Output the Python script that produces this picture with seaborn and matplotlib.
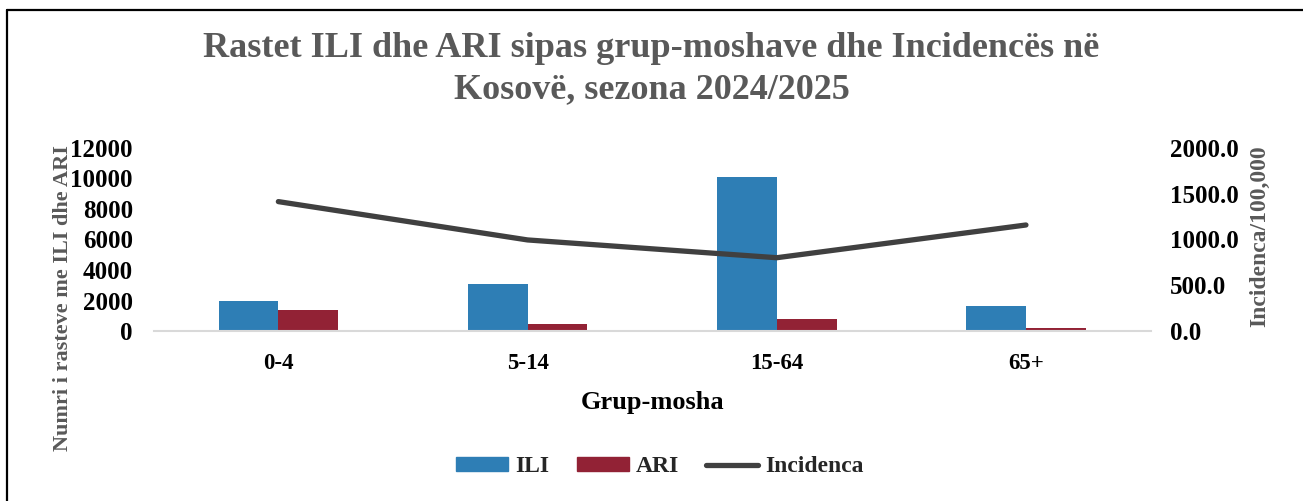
import matplotlib
matplotlib.use("Agg")
import matplotlib.pyplot as plt
import seaborn as sns
import pandas as pd
from matplotlib.lines import Line2D
from matplotlib.patches import Patch

categories = ["0-4", "5-14", "15-64", "65+"]
ili = [1970, 3110, 10060, 1620]
ari = [1360, 460, 770, 220]
incidenca = [1413, 995, 801, 1158]
left_ticks = [0, 2000, 4000, 6000, 8000, 10000, 12000]
right_ticks = [0, 500, 1000, 1500, 2000]

sns.set_theme(style="white")
plt.rcParams["font.family"] = ["Liberation Serif", "DejaVu Serif"]

fig = plt.figure(figsize=(13.03, 5.01), dpi=100)
ax = fig.add_axes([0.118, 0.339, 0.765, 0.366])

df = pd.DataFrame({
    "cat": categories * 2,
    "val": ili + ari,
    "series": ["ILI"] * 4 + ["ARI"] * 4,
})
c_ili = "#2E7EB5"
c_ari = "#922235"
sns.barplot(data=df, x="cat", y="val", hue="series", order=categories,
            hue_order=["ILI", "ARI"], palette=[c_ili, c_ari], width=0.48,
            gap=0, ax=ax, legend=False, saturation=1, linewidth=0)

ax.set_ylim(0, 12000)
ax.set_yticks(left_ticks)
ax.set_yticklabels([str(t) for t in left_ticks], fontsize=18, fontweight="bold", color="black")
ax.set_xlim(-0.5, 3.5)
ax.set_xticklabels(categories, fontsize=16.5, fontweight="bold", color="black")
ax.tick_params(axis="x", pad=16, length=0)
ax.tick_params(axis="y", length=0, pad=15)
for s in ["top", "left", "right"]:
    ax.spines[s].set_visible(False)
ax.spines["bottom"].set_color("#D9D9D9")
ax.spines["bottom"].set_linewidth(1.5)
ax.set_xlabel("Grup-mosha", fontsize=19, fontweight="bold", color="black", labelpad=12)
ax.set_ylabel("Numri i rasteve me ILI dhe ARI", fontsize=16, fontweight="bold",
              color="#595959", labelpad=10)
ax.yaxis.set_label_coords(-0.081, 0.18)

ax2 = ax.twinx()
sns.lineplot(x=list(range(4)), y=incidenca, ax=ax2, color="#404040", linewidth=3.8,
             solid_capstyle="round")
ax2.set_ylim(0, 2000)
ax2.set_yticks(right_ticks)
ax2.set_yticklabels([f"{t:.1f}" for t in right_ticks], fontsize=18, fontweight="bold", color="black")
ax2.tick_params(axis="y", length=0, pad=14)
for s in ["top", "left", "right", "bottom"]:
    ax2.spines[s].set_visible(False)
ax2.set_ylabel("Incidenca/100,000", fontsize=17, fontweight="bold", color="#595959", labelpad=8)
ax2.yaxis.set_label_coords(1.099, 0.52)

fig.text(0.5, 0.862, "Rastet ILI dhe ARI sipas grup-moshave dhe Incidencës në\nKosovë, sezona 2024/2025",
         ha="center", va="center", fontsize=26, fontweight="bold", color="#595959",
         linespacing=1.3)

handles = [Patch(color=c_ili, label="ILI"), Patch(color=c_ari, label="ARI"),
           Line2D([0], [0], color="#404040", linewidth=3.8, solid_capstyle="round", label="Incidenca")]
leg = fig.legend(handles=handles, loc="center", bbox_to_anchor=(0.5065, 0.068), ncol=3,
                 frameon=False, prop={"size": 17, "weight": "bold"},
                 handlelength=2.2, handleheight=0.5, columnspacing=1.15, handletextpad=0.3)

# outer border: only top and left edges visible in the reference
W, H = 1303.0, 501.0
fig.add_artist(Line2D([7 / W, 1.0], [1 - 10 / H, 1 - 10 / H], transform=fig.transFigure,
                      color="black", linewidth=1.6))
fig.add_artist(Line2D([7 / W, 7 / W], [0.0, 1 - 10 / H], transform=fig.transFigure,
                      color="black", linewidth=1.6))

fig.savefig("out.png", dpi=100)
